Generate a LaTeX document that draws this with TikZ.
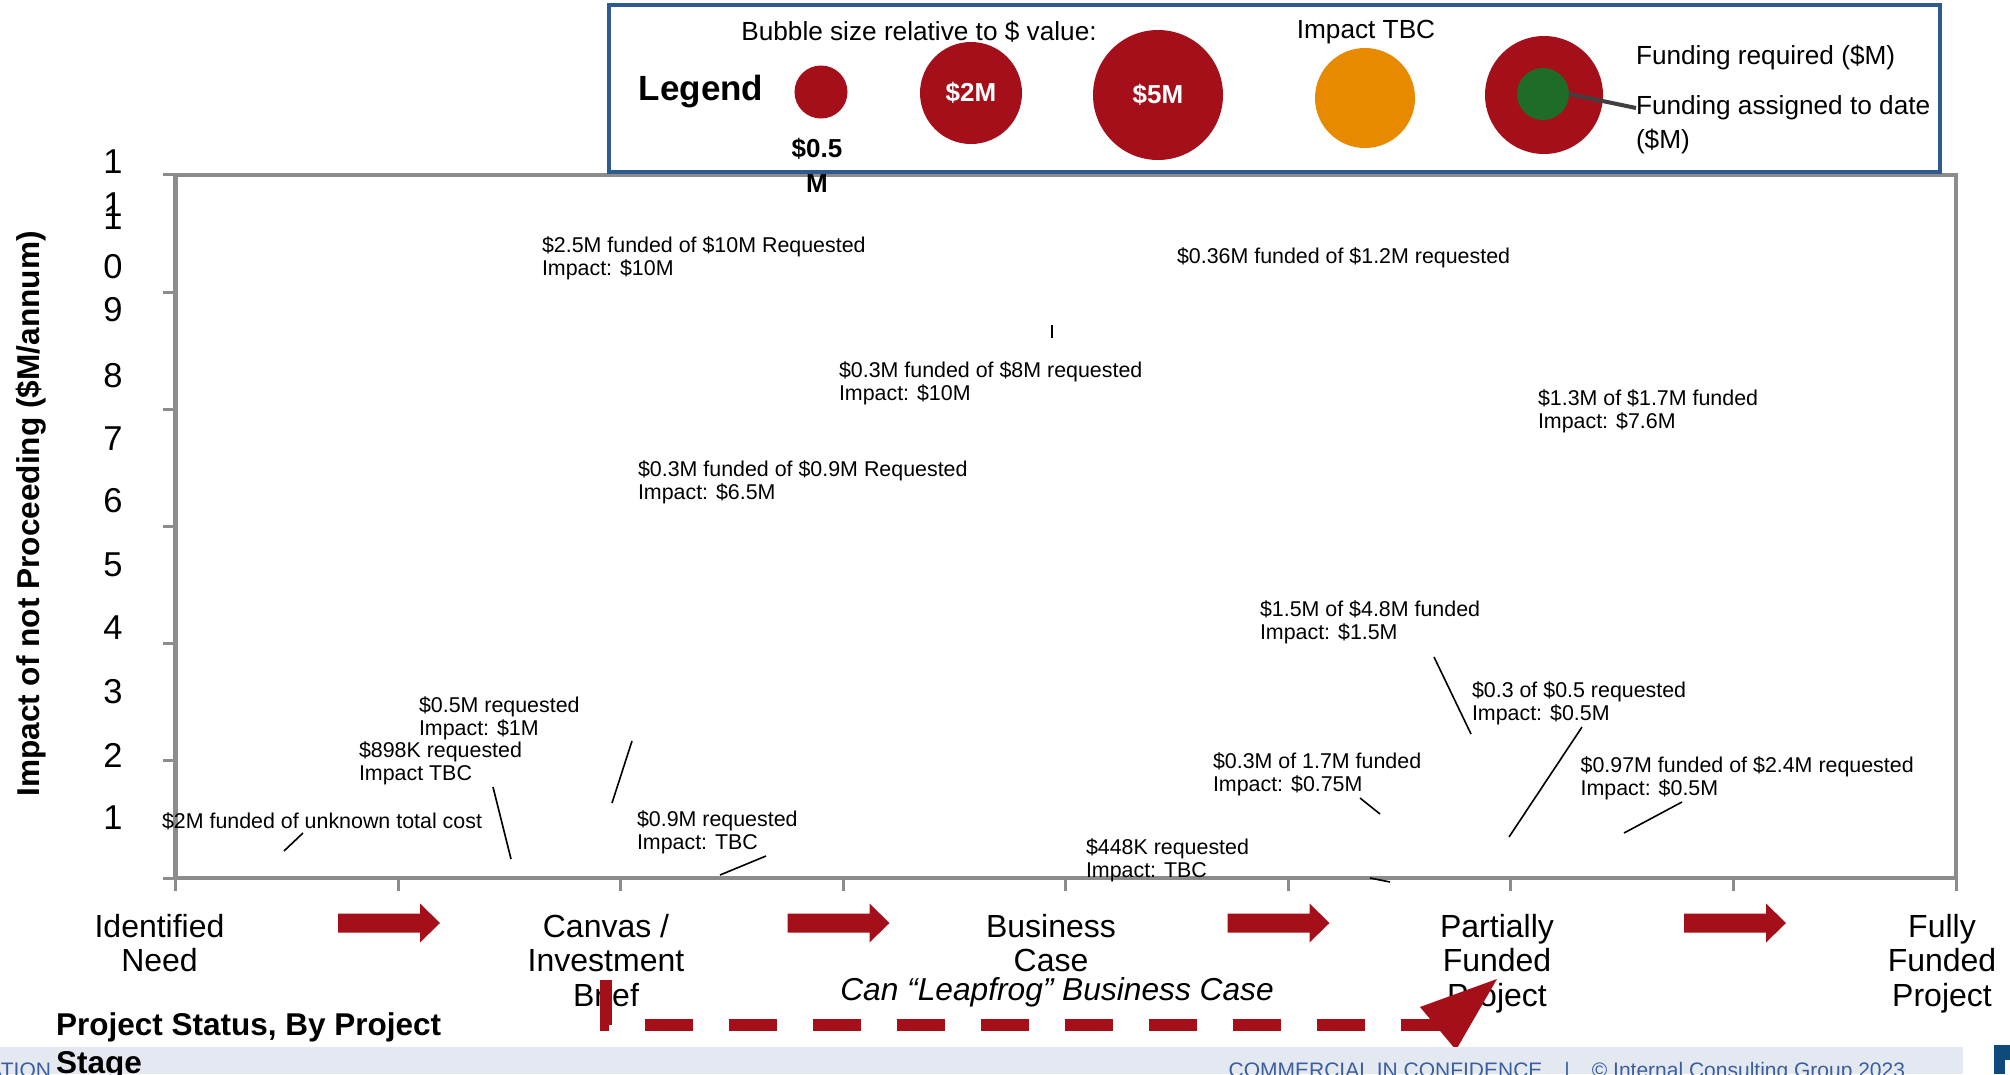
\documentclass[tikz,border=0pt]{standalone}
\usepackage{fontspec}
\setmainfont{Liberation Sans}
\definecolor{brandred}{HTML}{A50F1A}
\definecolor{tbcorange}{HTML}{E88A00}
\definecolor{fundgreen}{HTML}{1E6B2A}
\definecolor{legendblue}{HTML}{2E5A8E}
\definecolor{axisgray}{HTML}{8C8C8C}
\definecolor{footband}{HTML}{E4E9F1}
\definecolor{foottext}{HTML}{3A5F9E}
\definecolor{logoblue}{HTML}{0E4A7B}
\definecolor{connectorgray}{HTML}{404040}
\newcommand\fsz[2]{\fontsize{#1}{#2}\selectfont}

\begin{document}
\begin{tikzpicture}[x=1pt,y=-1pt,
  every node/.style={inner sep=0pt,outer sep=0pt},
  lbl/.style={font=\fsz{21.4}{23}, align=left, anchor=west},
  stage/.style={font=\fsz{32}{34.5}, align=center, anchor=north},
  ydigit/.style={font=\fsz{34.5}{34}},
  leader/.style={draw=black, line width=1.6pt},
  bubble/.style={circle, inner sep=0pt, minimum size=#1},
  legtxt/.style={font=\fsz{26.2}{30}},
  plotframe/.style={draw=axisgray, line width=4.5pt},
  axistick/.style={draw=axisgray, line width=3pt},
  blockarrow/.pic={\fill[brandred] (-51,-9.5) -- (31,-9.5) -- (31,-19.5) -- (51,0)
                    -- (31,19.5) -- (31,9.5) -- (-51,9.5) -- cycle;}
]
\useasboundingbox (0,0) rectangle (2010,1074);
\fill[white] (0,0) rectangle (2010,1074);

% ---- plot frame and ticks ----
\draw[plotframe] (175.5,175) rectangle (1956,878);
\foreach \ty in {174.8,292,409.2,526.4,643.6,760.8,878}
  \draw[axistick] (163,\ty) -- (175.5,\ty);
\foreach \tx in {175.5,398.1,620.6,843.2,1065.7,1288.3,1510.9,1733.4,1956}
  \draw[axistick] (\tx,878) -- (\tx,891);

% ---- vertical axis digits ----
\foreach \dy/\dd [count=\i] in {162/1,205/1,218/1,267/0,310/9,376/8,439/7,501/6,565/5,628/4,692/3,755/2,818/1}
  \node[ydigit] (yd\i) at (113,\dy) {\dd};

\node[font=\bfseries\fsz{31.6}{36}, rotate=90] (ytitle) at (31,514)
  {Impact of not Proceeding (\$M/annum)};

% ---- project labels ----
\node[lbl] (t1) at (542,258.3) {\$2.5M funded of \$10M Requested\\Impact: \$10M};
\node[lbl] (t2) at (1177,258) {\$0.36M funded of \$1.2M requested};
\node[lbl] (t3) at (839,383.5) {\$0.3M funded of \$8M requested\\Impact: \$10M};
\node[lbl] (t4) at (1538,411.5) {\$1.3M of \$1.7M funded\\Impact: \$7.6M};
\node[lbl] (t5) at (638,482.3) {\$0.3M funded of \$0.9M Requested\\Impact: \$6.5M};
\node[lbl] (t6) at (1260,622.3) {\$1.5M of \$4.8M funded\\Impact: \$1.5M};
\node[lbl] (t7) at (1472,703.3) {\$0.3 of \$0.5 requested\\Impact: \$0.5M};
\node[lbl] (t8) at (1213,774.5) {\$0.3M of 1.7M funded\\Impact: \$0.75M};
\node[lbl] (t9) at (1580.6,778) {\$0.97M funded of \$2.4M requested\\Impact: \$0.5M};
\node[lbl] (t10) at (1086,860.5) {\$448K requested\\Impact: TBC};
\node[lbl] (t11) at (162,821.7) {\$2M funded of unknown total cost};
\node[lbl] (t12) at (359,763) {\$898K requested\\Impact TBC};
\node[lbl] (t13) at (419,718) {\$0.5M requested\\Impact: \$1M};
\node[lbl] (t14) at (637,832.3) {\$0.9M requested\\Impact: TBC};

% ---- leader lines ----
\coordinate (q1a) at (303,833);   \coordinate (q1b) at (284,851);
\coordinate (q2a) at (493,787);   \coordinate (q2b) at (511,859);
\coordinate (q3a) at (632,741);   \coordinate (q3b) at (612,803);
\coordinate (q4a) at (766,856);   \coordinate (q4b) at (720,875);
\coordinate (q5a) at (1052,325);  \coordinate (q5b) at (1052,338);
\coordinate (q6a) at (1370,878);  \coordinate (q6b) at (1390,882);
\coordinate (q7a) at (1360,798);  \coordinate (q7b) at (1380,814);
\coordinate (q8a) at (1434,657);  \coordinate (q8b) at (1471,734);
\coordinate (q9a) at (1582,727);  \coordinate (q9b) at (1509,837);
\coordinate (q10a) at (1682,802); \coordinate (q10b) at (1624,833);
\foreach \k in {1,...,10}
  \draw[leader] (q\k a) -- (q\k b);

% ---- legend ----
\draw[draw=legendblue, line width=4.5pt, fill=white] (609,5) rectangle (1940,172);
\node[font=\bfseries\fsz{35}{40}] (legtitle) at (701,92) {Legend};
\node[legtxt] (legsize) at (919,32) {Bubble size relative to \$ value:};
\node[bubble=53, fill=brandred] (b05) at (821,92) {};
\node[font=\bfseries\fsz{26}{35}, align=center] (b05lbl) at (817,165.5) {\$0.5\\M};
\node[bubble=102, fill=brandred, text=white, font=\bfseries\fsz{26}{30}] (b2) at (971,93) {\$2M};
\node[bubble=130, fill=brandred, text=white, font=\bfseries\fsz{26}{30}] (b5) at (1158,95) {\$5M};
\node[legtxt] (legtbc) at (1366,32) {Impact TBC};
\node[bubble=100, fill=tbcorange] (btbc) at (1365,98) {};
\node[bubble=118, fill=brandred] (breq) at (1544,95) {};
\node[bubble=52, fill=fundgreen] (bgot) at (1543,94) {};
\node[legtxt, anchor=west] (legreq) at (1636,58) {Funding required (\$M)};
\node[legtxt, anchor=west] (legass) at (1636,108) {Funding assigned to date};
\node[legtxt, anchor=west] (legassb) at (1636,142) {(\$M)};
\draw[draw=connectorgray, line width=4pt] (bgot.east) -- (legass.west);

% ---- stages along the horizontal axis ----
\node[stage] (s1) at (159.5,914) {Identified\\Need};
\node[stage] (s2) at (606,914) {Canvas /\\Investment\\Brief};
\node[stage] (s3) at (1051,914) {Business\\Case};
\node[stage] (s4) at (1497,914) {Partially\\Funded\\Project};
\node[stage] (s5) at (1942,914) {Fully\\Funded\\Project};
\pic at (389,923) {blockarrow};
\pic at (838.5,923) {blockarrow};
\pic at (1278.5,923) {blockarrow};
\pic at (1735,923) {blockarrow};

% ---- leapfrog path ----
\node[font=\itshape\fsz{31.7}{36}] (leap) at (1057,992) {Can “Leapfrog” Business Case};
\coordinate (lfa) at (606,980);
\coordinate (lfb) at (606,1025);
\coordinate (lfc) at (1440,1025);
\coordinate (lfl) at (1420,1007);
\coordinate (lftip) at (1497,979);
\coordinate (lfr) at (1456,1050);
\draw[brandred, line width=12pt, dash pattern=on 48pt off 36pt] (lfa) -- (lfb) -- (lfc);
\fill[brandred] (lfl) -- (lftip) -- (lfr) -- cycle;

% ---- footer ----
\fill[footband] (0,1047) rectangle (1963,1074);
\fill[logoblue] (1994,1045) rectangle (2010,1074);
\fill[white] (2005,1060) rectangle (2010,1074);
\node[font=\fsz{21}{24}, text=foottext, anchor=base west] (foot) at (1228.6,1077)
  {COMMERCIAL IN CONFIDENCE\hspace{22pt}|\hspace{22pt}© Internal Consulting Group 2023};
\node[font=\fsz{21}{24}, text=foottext, anchor=base east] (footl) at (51,1077) {ATION};
\node[font=\bfseries\fsz{31.5}{38}, align=left, anchor=north west] (status) at (56,1013)
  {Project Status, By Project\\Stage};
\end{tikzpicture}
\end{document}
